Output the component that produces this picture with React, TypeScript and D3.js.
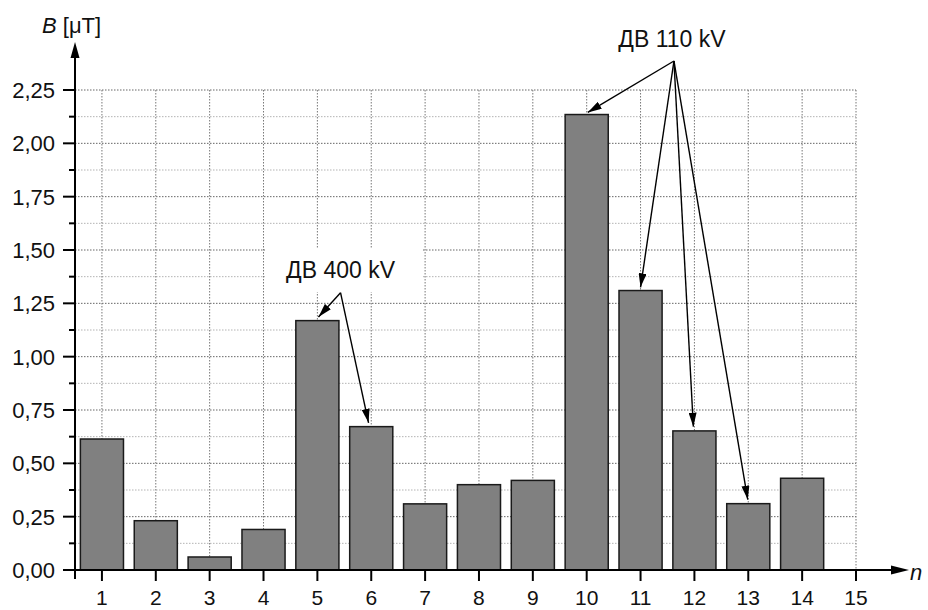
import React from "react";
import * as d3 from "d3";

const categories = [1, 2, 3, 4, 5, 6, 7, 8, 9, 10, 11, 12, 13, 14];
const values = [0.614, 0.231, 0.061, 0.19, 1.169, 0.672, 0.31, 0.4, 0.42, 2.135, 1.31, 0.652, 0.311, 0.43];
const xTicks = [1, 2, 3, 4, 5, 6, 7, 8, 9, 10, 11, 12, 13, 14, 15];
const yTicks = [0, 0.25, 0.5, 0.75, 1.0, 1.25, 1.5, 1.75, 2.0, 2.25];
const yMinor = [0.125, 0.375, 0.625, 0.875, 1.125, 1.375, 1.625, 1.875, 2.125];

// annotation groups: label, origin [n, B], targets [n, B]
const ann400Label = "ДВ 400 kV";
const ann400Origin: [number, number] = [5.43, 1.3];
const ann400Targets: [number, number][] = [[5.02, 1.186], [5.95, 0.69]];
const ann110Label = "ДВ 110 kV";
const ann110Origin: [number, number] = [11.62, 2.386];
const ann110Targets: [number, number][] = [[10.02, 2.145], [11.0, 1.325], [11.98, 0.672], [12.99, 0.33]];

const W = 928;
const H = 610;
const FONT = "'Liberation Sans', Arial, sans-serif";

export default function App() {
  const x = d3.scaleLinear().domain([0.5, 15]).range([75, 856]);
  const y = d3.scaleLinear().domain([0, 2.25]).range([570, 90]);
  const fmt = (v: number) => d3.format(".2f")(v).replace(".", ",");
  const bw = (x(2) - x(1)) * 0.8;

  const arrow = (o: [number, number], t: [number, number], k: string) => {
    return (
      <line key={k} x1={x(o[0])} y1={y(o[1])} x2={x(t[0])} y2={y(t[1])}
        stroke="#000" strokeWidth={1.4} markerEnd="url(#ah)" />
    );
  };

  return (
    <div style={{ position: "absolute", left: 0, top: 0 }}>
      <svg width={W} height={H} style={{ display: "block", background: "#fff" }} fontFamily={FONT}>
        <defs>
          <marker id="ah" viewBox="0 0 14 8" refX="14" refY="4" markerWidth="14" markerHeight="8"
            markerUnits="userSpaceOnUse" orient="auto">
            <path d="M0,0 L14,4 L0,8 Z" fill="#000" />
          </marker>
        </defs>
        {/* grid */}
        {yMinor.map((v) => (
          <line key={"gm" + v} x1={75} x2={x(15)} y1={y(v)} y2={y(v)} stroke="#aaa" strokeWidth={0.9} strokeDasharray="1.5,1.5" />
        ))}
        {yTicks.filter((v) => v > 0).map((v) => (
          <line key={"gy" + v} x1={75} x2={x(15)} y1={y(v)} y2={y(v)} stroke="#666" strokeWidth={1} strokeDasharray="1.5,1.5" />
        ))}
        {xTicks.map((v) => (
          <line key={"gx" + v} x1={x(v)} x2={x(v)} y1={y(2.25)} y2={y(0)} stroke="#777" strokeWidth={1} strokeDasharray="1.5,1.5" />
        ))}
        {/* bars */}
        {categories.map((c, i) => (
          <rect key={"b" + c} x={x(c) - bw / 2} y={y(values[i])} width={bw} height={y(0) - y(values[i])}
            fill="#808080" stroke="#1a1a1a" strokeWidth={1.5} />
        ))}
        {/* axes */}
        <line x1={75} x2={75} y1={579} y2={52} stroke="#000" strokeWidth={2} />
        <path d="M75,42 L70.5,58 L79.5,58 Z" fill="#000" />
        <line x1={74} x2={898} y1={570} y2={570} stroke="#000" strokeWidth={2} />
        <path d="M909,570 L891,565.5 L891,574.5 Z" fill="#000" />
        {yTicks.map((v) => (
          <g key={"yt" + v}>
            <line x1={63} x2={75} y1={y(v)} y2={y(v)} stroke="#000" strokeWidth={2} />
            <text x={55} y={y(v) + 8} textAnchor="end" fontSize={22} fill="#111">{fmt(v)}</text>
          </g>
        ))}
        {yMinor.map((v) => (
          <line key={"ym" + v} x1={69} x2={75} y1={y(v)} y2={y(v)} stroke="#000" strokeWidth={2} />
        ))}
        {xTicks.map((v) => (
          <g key={"xt" + v}>
            <line x1={x(v)} x2={x(v)} y1={570} y2={581} stroke="#000" strokeWidth={2} />
            <text x={x(v)} y={605} textAnchor="middle" fontSize={21} fill="#111">{v}</text>
          </g>
        ))}
        <text x={42} y={33} fontSize={22} fill="#111">
          <tspan fontStyle="italic">B</tspan> [μT]
        </text>
        <text x={910} y={580} fontSize={22} fontStyle="italic" fill="#111">n</text>
        {/* annotations */}
        <rect x={265} y={248} width={157} height={44} fill="#fff" />
        <text x={x(ann400Origin[0])} y={278} textAnchor="middle" fontSize={23} fill="#111">{ann400Label}</text>
        {ann400Targets.map((t, i) => arrow(ann400Origin, t, "a4" + i))}
        <text x={x(ann110Origin[0]) - 2} y={47} textAnchor="middle" fontSize={23} fill="#111">{ann110Label}</text>
        {ann110Targets.map((t, i) => arrow(ann110Origin, t, "a1" + i))}
      </svg>
    </div>
  );
}
